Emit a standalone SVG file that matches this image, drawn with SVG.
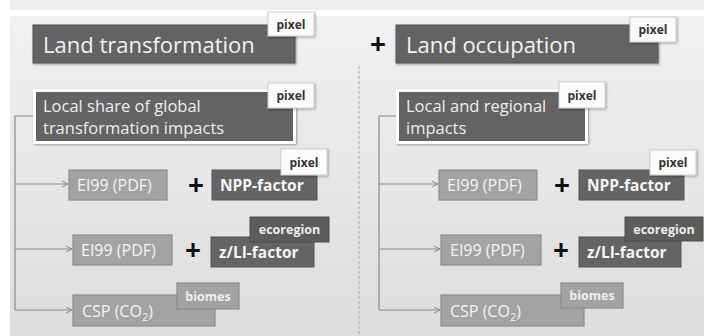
<svg xmlns="http://www.w3.org/2000/svg" width="704" height="336" viewBox="0 0 704 336">
<defs>
<linearGradient id="bg" x1="0" y1="0" x2="0" y2="1">
<stop offset="0" stop-color="#f1f1f1"/>
<stop offset="1" stop-color="#dddddd"/>
</linearGradient>
<filter id="sh" x="-20%" y="-20%" width="150%" height="160%">
<feDropShadow dx="1" dy="1" stdDeviation="1" flood-color="#000" flood-opacity="0.35"/>
</filter>
<marker id="arr" markerWidth="8" markerHeight="8" refX="7" refY="4" orient="auto" markerUnits="userSpaceOnUse">
<path d="M1,1 L7,4 L1,7" fill="none" stroke="#8a8a8a" stroke-width="1"/>
</marker>
<style>
text{font-family:"Open Sans","Liberation Sans",sans-serif}
.dark{fill:#646464;stroke:#555;stroke-width:1}
.mid{fill:#a3a3a3;stroke:#8c8c8c;stroke-width:1.2}
.tag{fill:#fbfbfb;stroke:#cfcfcf;stroke-width:1}
.dtag{fill:#5c5c5c;stroke:#4c4c4c;stroke-width:1}
.big{font-size:22px;fill:#f2f2f2}
.med{font-size:16.5px;fill:#eeeeee}
.lt{font-size:16px;fill:#f4f4f4}
.bold{font-size:15.5px;font-weight:bold;fill:#f6f6f6}
.tt{font-size:12px;font-weight:bold;fill:#333}
.tw{font-size:12.5px;font-weight:bold;fill:#eeeeee}
.plus{font-size:28px;font-weight:bold;fill:#111;text-anchor:middle}
.ln{fill:none;stroke:#8a8a8a;stroke-width:1.2}
</style>
</defs>
<rect x="0" y="0" width="704" height="336" fill="#ffffff"/>
<rect x="10" y="0" width="694" height="10" fill="#efefef"/>
<rect x="10" y="16" width="694" height="320" fill="url(#bg)"/>
<line x1="359" y1="66" x2="359" y2="336" stroke="#b5b5b5" stroke-width="1.2" stroke-dasharray="3,2"/>

<g id="connectors">
<path class="ln" d="M33,116 H15 V310"/>
<path class="ln" d="M15,184 H68" marker-end="url(#arr)"/>
<path class="ln" d="M15,249 H72" marker-end="url(#arr)"/>
<path class="ln" d="M15,310 H72" marker-end="url(#arr)"/>
<path class="ln" d="M396,116 H379 V310"/>
<path class="ln" d="M379,184 H438" marker-end="url(#arr)"/>
<path class="ln" d="M379,249 H440" marker-end="url(#arr)"/>
<path class="ln" d="M379,310 H440" marker-end="url(#arr)"/>
</g>

<g id="land-transformation">
<rect class="dark" x="33" y="25" width="262" height="38" filter="url(#sh)"/>
<text class="big" x="43" y="53">Land transformation</text>
<rect class="tag" x="268" y="12" width="46" height="24" filter="url(#sh)"/>
<text class="tt" x="291" y="28.5" text-anchor="middle">pixel</text>
</g>

<text class="plus" x="378" y="54">+</text>

<g id="land-occupation">
<rect class="dark" x="396" y="25" width="262" height="38" filter="url(#sh)"/>
<text class="big" x="406" y="53">Land occupation</text>
<rect class="tag" x="630" y="17" width="46" height="25" filter="url(#sh)"/>
<text class="tt" x="653" y="33.5" text-anchor="middle">pixel</text>
</g>

<g id="local-share">
<rect x="34.5" y="90.5" width="260" height="52" fill="#646464" stroke="#ffffff" stroke-width="3" filter="url(#sh)"/>
<text class="med" x="43" y="112">Local share of global</text>
<text class="med" x="43" y="134">transformation impacts</text>
<rect class="tag" x="268" y="83" width="46" height="25" filter="url(#sh)"/>
<text class="tt" x="291" y="99.5" text-anchor="middle">pixel</text>
</g>

<g id="local-regional">
<rect x="397.5" y="90.5" width="189" height="52" fill="#646464" stroke="#ffffff" stroke-width="3" filter="url(#sh)"/>
<text class="med" x="406" y="112">Local and regional</text>
<text class="med" x="406" y="134">impacts</text>
<rect class="tag" x="559" y="82" width="46" height="26" filter="url(#sh)"/>
<text class="tt" x="582" y="99.5" text-anchor="middle">pixel</text>
</g>

<g id="ei99-l1">
<rect class="mid" x="69" y="170" width="98" height="30"/>
<text class="lt" x="77" y="191">EI99 (PDF)</text>
</g>
<text class="plus" x="196" y="195">+</text>
<g id="npp-l">
<rect class="dark" x="212" y="170" width="105" height="30"/>
<text class="bold" x="220" y="191">NPP-factor</text>
<rect class="tag" x="281" y="149" width="46" height="26" filter="url(#sh)"/>
<text class="tt" x="304" y="166.5" text-anchor="middle">pixel</text>
</g>

<g id="ei99-l2">
<rect class="mid" x="73" y="235" width="99" height="30"/>
<text class="lt" x="81" y="256">EI99 (PDF)</text>
</g>
<text class="plus" x="193" y="260">+</text>
<g id="zli-l">
<rect class="dark" x="211" y="237" width="103" height="30"/>
<text class="bold" x="219" y="258">z/LI-factor</text>
<rect class="dtag" x="250" y="217" width="79" height="25"/>
<text class="tw" x="289.5" y="234" text-anchor="middle">ecoregion</text>
</g>

<g id="csp-l">
<rect class="mid" x="73" y="295" width="142" height="31"/>
<text class="lt" x="82" y="317">CSP (CO<tspan font-size="11" dy="4">2</tspan><tspan dy="-4">)</tspan></text>
<rect class="mid" x="177" y="283" width="62" height="26"/>
<text class="tw" x="208" y="300.5" text-anchor="middle">biomes</text>
</g>

<g id="ei99-r1">
<rect class="mid" x="439" y="170" width="98" height="30"/>
<text class="lt" x="447" y="191">EI99 (PDF)</text>
</g>
<text class="plus" x="562" y="195">+</text>
<g id="npp-r">
<rect class="dark" x="579" y="170" width="105" height="30"/>
<text class="bold" x="587" y="191">NPP-factor</text>
<rect class="tag" x="650" y="150" width="46" height="25" filter="url(#sh)"/>
<text class="tt" x="673" y="166.5" text-anchor="middle">pixel</text>
</g>

<g id="ei99-r2">
<rect class="mid" x="441" y="235" width="100" height="30"/>
<text class="lt" x="450" y="256">EI99 (PDF)</text>
</g>
<text class="plus" x="561" y="260">+</text>
<g id="zli-r">
<rect class="dark" x="579" y="237" width="102" height="30"/>
<text class="bold" x="587" y="258">z/LI-factor</text>
<rect class="dtag" x="625" y="217" width="78" height="24"/>
<text class="tw" x="664" y="233.5" text-anchor="middle">ecoregion</text>
</g>

<g id="csp-r">
<rect class="mid" x="441" y="295" width="143" height="31"/>
<text class="lt" x="450" y="317">CSP (CO<tspan font-size="11" dy="4">2</tspan><tspan dy="-4">)</tspan></text>
<rect class="mid" x="561" y="283" width="62" height="25"/>
<text class="tw" x="592" y="300" text-anchor="middle">biomes</text>
</g>
</svg>
